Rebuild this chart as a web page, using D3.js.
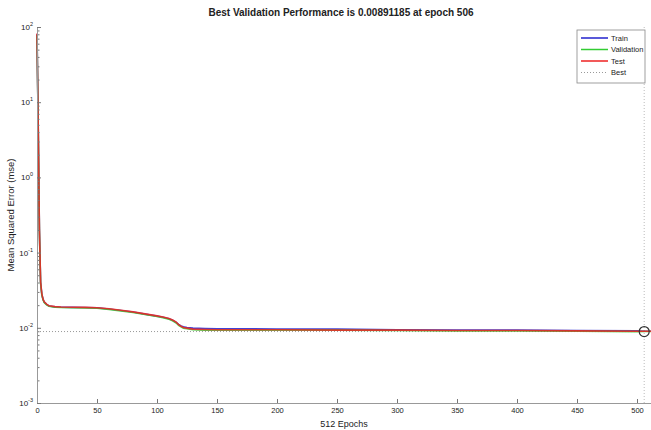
<!DOCTYPE html>
<meta charset="utf-8">
<html>
<head>
<script src="https://d3js.org/d3.v7.min.js"></script>
<style>
    body { margin: 0; background: white; }
    text { font-family: "Liberation Sans", Arial, sans-serif; fill: #222; }
</style>
</head>
<body>
<div id="chart"></div>
<script>

// data (epoch, mean squared error)
const epochs    = [0, 1, 2, 3, 4, 5, 6, 8, 10, 15, 20, 30, 40, 50, 60, 70, 80, 90, 100, 105, 110, 113, 116, 118, 120, 122, 125, 130, 140, 150, 175, 200, 250, 300, 350, 400, 450, 500, 506, 512];
const trainPerf = [80, 5, 0.2, 0.04, 0.028, 0.024, 0.022, 0.0205, 0.0195, 0.019, 0.0188, 0.0187, 0.0186, 0.0184, 0.0178, 0.017, 0.0162, 0.0152, 0.0143, 0.0138, 0.0132, 0.0126, 0.0118, 0.0111, 0.0106, 0.0103, 0.0101, 0.0099, 0.0098, 0.0097, 0.0097, 0.0096, 0.0096, 0.0094, 0.0093, 0.0093, 0.0092, 0.0091, 0.009, 0.009];
const valPerf   = [78, 4.8, 0.19, 0.039, 0.0275, 0.0236, 0.0217, 0.0202, 0.0193, 0.0188, 0.0186, 0.0185, 0.0184, 0.0182, 0.0176, 0.0168, 0.016, 0.015, 0.0141, 0.0136, 0.013, 0.0124, 0.0116, 0.0108, 0.0103, 0.0099, 0.0097, 0.0094, 0.0093, 0.0093, 0.0093, 0.0093, 0.0093, 0.0092, 0.0091, 0.0091, 0.009, 0.0089, 0.00891, 0.00893];
const testPerf  = [82, 5.2, 0.21, 0.041, 0.0285, 0.0242, 0.0222, 0.0207, 0.0196, 0.0191, 0.0189, 0.0188, 0.0187, 0.0185, 0.0179, 0.0171, 0.0163, 0.0153, 0.0144, 0.0139, 0.0133, 0.0127, 0.0119, 0.011, 0.0105, 0.0101, 0.0099, 0.0096, 0.0095, 0.0094, 0.0094, 0.0094, 0.0093, 0.0093, 0.0092, 0.0092, 0.0091, 0.009, 0.00898, 0.00898];
const bestEpoch = 506;
const bestPerf = 0.00891185;
const xTicks = [0, 50, 100, 150, 200, 250, 300, 350, 400, 450, 500];
const yTicks = [1e-3, 1e-2, 1e-1, 1e0, 1e1, 1e2];
const seriesNames = ["Train", "Validation", "Test", "Best"];
const seriesColors = ["#2222cc", "#33cc33", "#ee2222", "#999999"];

// layout
const width = 651, height = 430;
const plotL = 37, plotR = 651.4, plotT = 27, plotB = 403;

const svg = d3.select("#chart")
    .append("svg")
    .attr("width", width)
    .attr("height", height);

var scaleX = d3.scaleLinear()
    .domain([0, 512])
    .range([plotL, plotR]);

var scaleY = d3.scaleLog()
    .domain([1e-3, 1e2])
    .range([plotB, plotT]);

// best lines (dotted)
svg.append("line")
    .attr("x1", plotL).attr("x2", plotR)
    .attr("y1", scaleY(bestPerf)).attr("y2", scaleY(bestPerf))
    .attr("stroke", seriesColors[3]).attr("stroke-width", 1)
    .attr("stroke-dasharray", "1,2");
svg.append("line")
    .attr("x1", scaleX(bestEpoch)).attr("x2", scaleX(bestEpoch))
    .attr("y1", plotT).attr("y2", plotB)
    .attr("stroke", "#bbbbbb").attr("stroke-width", 1)
    .attr("stroke-dasharray", "1,2");

// performance curves
var line = d3.line()
    .x((d) => scaleX(d[0]))
    .y((d) => scaleY(d[1]));

[trainPerf, valPerf, testPerf].forEach(function(vals, i) {
    svg.append("path")
        .datum(epochs.map((e, j) => [e, vals[j]]))
        .attr("d", line)
        .attr("fill", "none")
        .attr("stroke", seriesColors[i])
        .attr("stroke-width", 1.6)
        .attr("stroke-opacity", 0.85);
});

// best point
svg.append("circle")
    .attr("cx", scaleX(bestEpoch))
    .attr("cy", scaleY(bestPerf))
    .attr("r", 5)
    .attr("fill", "none")
    .attr("stroke", "#333")
    .attr("stroke-width", 1.2);

// x axis (ticks inside, matlab style)
var axisX = svg.append("g")
    .attr("transform", "translate(0," + plotB + ")")
    .call(d3.axisBottom(scaleX).tickValues(xTicks).tickSizeInner(-4).tickSizeOuter(0).tickPadding(5));
axisX.select(".domain").attr("stroke", "#999");
axisX.selectAll(".tick line").attr("stroke", "#777");
axisX.selectAll("text").style("font-size", "7.5px").attr("fill", "#444");

// y axis, log with minor ticks
var minor = [];
for (let e = -3; e < 2; e++) for (let k = 2; k < 10; k++) minor.push(k * Math.pow(10, e));
var axisYminor = svg.append("g")
    .attr("transform", "translate(" + plotL + ",0)")
    .call(d3.axisLeft(scaleY).tickValues(minor).tickSize(-2.5).tickFormat(""));
axisYminor.select(".domain").remove();
axisYminor.selectAll(".tick line").attr("stroke", "#777");

var axisY = svg.append("g")
    .attr("transform", "translate(" + plotL + ",0)")
    .call(d3.axisLeft(scaleY).tickValues(yTicks).tickSizeInner(-4).tickSizeOuter(0).tickFormat(""));
axisY.select(".domain").attr("stroke", "#999");
axisY.selectAll(".tick line").attr("stroke", "#777");

var yLab = svg.append("g").selectAll("text")
    .data(yTicks)
    .enter()
    .append("text")
    .attr("x", plotL - 4)
    .attr("y", (d) => scaleY(d) + 3)
    .attr("text-anchor", "end")
    .style("font-size", "8px")
    .attr("fill", "#444")
    .text("10");
yLab.append("tspan")
    .attr("dy", -4)
    .style("font-size", "5.5px")
    .text((d) => Math.round(Math.log10(d)));

// title and axis labels
svg.append("text")
    .attr("x", 341).attr("y", 16)
    .attr("text-anchor", "middle")
    .style("font-size", "10px")
    .style("font-weight", "bold")
    .text("Best Validation Performance is " + bestPerf + " at epoch " + bestEpoch);

svg.append("text")
    .attr("x", 344).attr("y", 427)
    .attr("text-anchor", "middle")
    .style("font-size", "9px")
    .text("512 Epochs");

svg.append("text")
    .attr("transform", "translate(14,215) rotate(-90)")
    .attr("text-anchor", "middle")
    .style("font-size", "9.5px")
    .text("Mean Squared Error  (mse)");

// legend
const leg = svg.append("g").attr("transform", "translate(577,30)");
leg.append("rect")
    .attr("width", 68).attr("height", 53)
    .attr("fill", "white")
    .attr("stroke", "#888").attr("stroke-width", 0.8);
seriesNames.forEach(function(name, i) {
    var y = 8 + i * 11.5;
    leg.append("line")
        .attr("x1", 4).attr("x2", 31)
        .attr("y1", y).attr("y2", y)
        .attr("stroke", seriesColors[i])
        .attr("stroke-width", i < 3 ? 1.5 : 1)
        .attr("stroke-dasharray", i < 3 ? null : "1,2");
    leg.append("text")
        .attr("x", 34).attr("y", y + 2.5)
        .style("font-size", "7.5px")
        .attr("fill", "#444")
        .text(name);
});

</script>
</body>
</html>
